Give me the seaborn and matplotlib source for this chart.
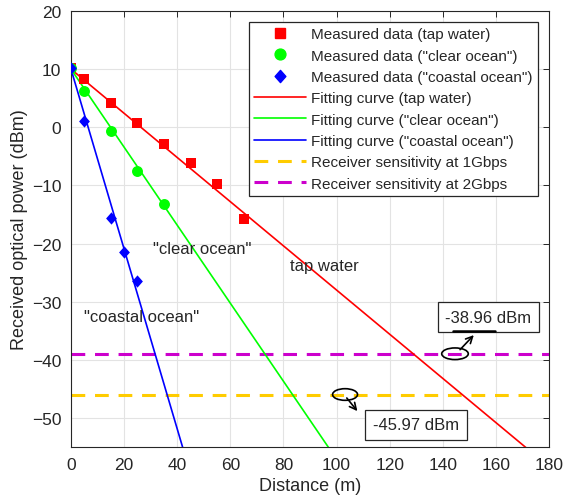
import numpy as np
import pandas as pd
import matplotlib
matplotlib.use("Agg")
import matplotlib.pyplot as plt
from matplotlib.path import Path
from matplotlib.patches import Ellipse
from matplotlib.lines import Line2D
import seaborn as sns

# ---------------- data ----------------
tap_x = [0, 5, 15, 25, 35, 45, 55, 65]
tap_y = [10.2, 8.3, 4.2, 0.8, -2.8, -6.1, -9.8, -15.7]

clear_x = [0, 5, 15, 25, 35]
clear_y = [10.2, 6.2, -0.7, -7.5, -13.2]

coastal_x = [0, 5, 15, 20, 25]
coastal_y = [10.2, 1.0, -15.6, -21.4, -26.4]

# fitted lines (end points, clipped by axes)
fit_x = [0, 180]
fit_tap = [10.0, -58.4]
fit_clear = [10.0, -110.8]
fit_coastal = [10.0, -268.5]

sens_1g = -45.97
sens_2g = -38.96

x_ticks = [0, 20, 40, 60, 80, 100, 120, 140, 160, 180]
y_ticks = [-50, -40, -30, -20, -10, 0, 10, 20]

RED, GREEN, BLUE = "#FF0000", "#00FF00", "#0000FF"
YELLOW, MAGENTA = "#FFCC00", "#CC00CC"

sns.set_theme(style="whitegrid")
plt.rcParams["font.family"] = ["Liberation Sans", "DejaVu Sans"]

fig = plt.figure(figsize=(5.73, 5.02), dpi=100)
ax = fig.add_axes([71 / 573, 1 - 448 / 502, 478 / 573, 436 / 502])
ax.set_facecolor("white")

diamond = Path([(0, 1), (0.88, 0), (0, -1), (-0.88, 0), (0, 1)],
               [Path.MOVETO, Path.LINETO, Path.LINETO, Path.LINETO, Path.CLOSEPOLY])

# thresholds
ax.axhline(sens_1g, color=YELLOW, lw=2.2, ls=(0, (4.5, 3.2)), zorder=2)
ax.axhline(sens_2g, color=MAGENTA, lw=2.2, ls=(0, (4.5, 3.2)), zorder=2)

# fitting curves
sns.lineplot(x=fit_x, y=fit_tap, color=RED, lw=1.2, ax=ax, zorder=3)
sns.lineplot(x=fit_x, y=fit_clear, color=GREEN, lw=1.2, ax=ax, zorder=3)
sns.lineplot(x=fit_x, y=fit_coastal, color=BLUE, lw=1.2, ax=ax, zorder=3)

# measured data
sns.scatterplot(x=tap_x, y=tap_y, marker="s", s=44, color=RED, edgecolor=RED,
                linewidth=0, ax=ax, zorder=4)
sns.scatterplot(x=clear_x, y=clear_y, marker="o", s=62, color=GREEN, edgecolor=GREEN,
                linewidth=0, ax=ax, zorder=5)
sns.scatterplot(x=coastal_x, y=coastal_y, marker=diamond, s=78, color=BLUE, edgecolor=BLUE,
                linewidth=0, ax=ax, zorder=6)

ax.set_xlim(0, 180)
ax.set_ylim(-55, 20)
ax.set_xticks(x_ticks)
ax.set_yticks(y_ticks)
ax.grid(True, color="#E3E3E3", lw=0.8)
ax.tick_params(direction="in", length=4, width=0.7, top=True, right=True,
               labelsize=12.5, colors="#262626", labelcolor="#262626", pad=7)
for s in ax.spines.values():
    s.set_color("#262626")
    s.set_linewidth(0.8)
ax.set_xlabel("Distance (m)", fontsize=13, color="#262626", labelpad=4)
ax.set_ylabel("Received optical power (dBm)", fontsize=13, color="#262626", labelpad=3)

# curve labels
ax.text(49.3, -20.8, '"clear ocean"', fontsize=12, ha="center", va="center", zorder=7)
ax.text(95.6, -23.8, "tap water", fontsize=12, ha="center", va="center", zorder=7)
ax.text(26.4, -32.5, '"coastal ocean"', fontsize=12, ha="center", va="center", zorder=7)

# annotations
box = dict(boxstyle="square,pad=0.45", fc="white", ec="#262626", lw=0.9)
ax.text(157.1, -32.7, "-38.96 dBm", fontsize=12, ha="center", va="center", bbox=box, zorder=8)
ax.text(129.9, -51.15, "-45.97 dBm", fontsize=12, ha="center", va="center", bbox=box, zorder=8)
ax.plot([143.7, 159.8], [-35.05, -35.05], color="black", lw=1.8, zorder=9)

ax.add_patch(Ellipse((144.6, sens_2g), 10.0, 2.0, fill=False, ec="black", lw=1.2, zorder=8))
ax.add_patch(Ellipse((103.2, sens_1g), 9.4, 2.0, fill=False, ec="black", lw=1.2, zorder=8))
ax.annotate("", xy=(152.4, -35.4), xytext=(145.8, -38.6),
            arrowprops=dict(arrowstyle="->", color="black", lw=1.2, mutation_scale=12), zorder=9)
ax.annotate("", xy=(108.5, -49.2), xytext=(103.2, -46.2),
            arrowprops=dict(arrowstyle="->", color="black", lw=1.2, mutation_scale=12), zorder=9)

# legend
handles = [
    Line2D([], [], ls="none", marker="s", ms=6.6, color=RED, mec=RED),
    Line2D([], [], ls="none", marker="o", ms=7.8, color=GREEN, mec=GREEN),
    Line2D([], [], ls="none", marker=diamond, ms=8.8, color=BLUE, mec=BLUE),
    Line2D([], [], color=RED, lw=1.2),
    Line2D([], [], color=GREEN, lw=1.2),
    Line2D([], [], color=BLUE, lw=1.2),
    Line2D([], [], color=YELLOW, lw=2.2, ls=(0, (4.5, 3.2))),
    Line2D([], [], color=MAGENTA, lw=2.2, ls=(0, (4.5, 3.2))),
]
labels = [
    "Measured data (tap water)",
    'Measured data ("clear ocean")',
    'Measured data ("coastal ocean")',
    "Fitting curve (tap water)",
    'Fitting curve ("clear ocean")',
    'Fitting curve ("coastal ocean")',
    "Receiver sensitivity at 1Gbps",
    "Receiver sensitivity at 2Gbps",
]
leg = ax.legend(handles, labels, loc="upper right", bbox_to_anchor=(0.977, 0.975),
                borderaxespad=0, fontsize=11, frameon=True, fancybox=False,
                edgecolor="#262626", facecolor="white", framealpha=1,
                handlelength=3.4, handletextpad=0.35, labelspacing=0.48,
                borderpad=0.35)
leg.get_frame().set_linewidth(0.9)
leg.set_zorder(10)

fig.savefig("out.png", dpi=100)
